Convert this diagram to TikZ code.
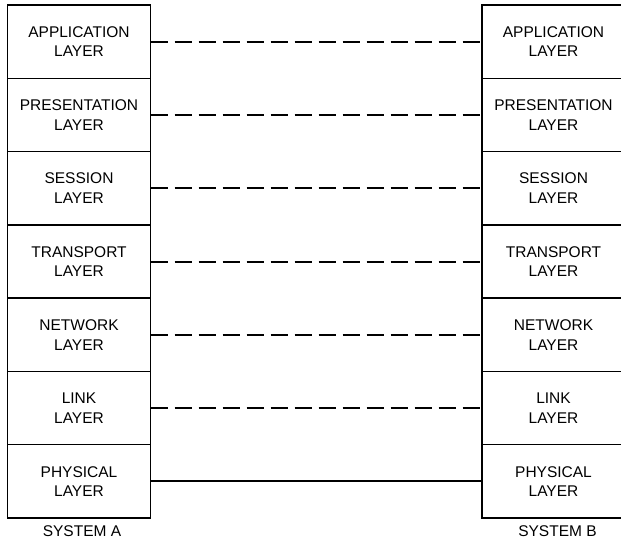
\documentclass[tikz,border=0pt]{standalone}
\usepackage{fontspec}
\setmainfont{Liberation Sans}
\usetikzlibrary{positioning}

\tikzstyle{layer} = [rectangle, draw, line width=1.4pt, minimum width=143pt,
minimum height=73.3pt, align=center, inner sep=0pt, outer sep=0pt,
font=\fontsize{15.5}{19.5}\selectfont]
\tikzstyle{peer} = [draw, line width=2pt, dash pattern=on 17.5pt off 6.5pt]
\tikzstyle{wire} = [draw, line width=2pt]
\tikzstyle{sysname} = [inner sep=0pt, font=\fontsize{15.5}{19.5}\selectfont]

\begin{document}
\begin{tikzpicture}[x=1pt,y=1pt]
\useasboundingbox (0,0) rectangle (621,541);

% Layers of System A
\node[layer](appA) at (79,499.35) {APPLICATION\\LAYER};
\node[layer,below=0pt of appA](presA) {PRESENTATION\\LAYER};
\node[layer,below=0pt of presA](sessA) {SESSION\\LAYER};
\node[layer,below=0pt of sessA](transA) {TRANSPORT\\LAYER};
\node[layer,below=0pt of transA](netA) {NETWORK\\LAYER};
\node[layer,below=0pt of netA](linkA) {LINK\\LAYER};
\node[layer,below=0pt of linkA](physA) {PHYSICAL\\LAYER};

% Layers of System B
\node[layer](appB) at (553.5,499.35) {APPLICATION\\LAYER};
\node[layer,below=0pt of appB](presB) {PRESENTATION\\LAYER};
\node[layer,below=0pt of presB](sessB) {SESSION\\LAYER};
\node[layer,below=0pt of sessB](transB) {TRANSPORT\\LAYER};
\node[layer,below=0pt of transB](netB) {NETWORK\\LAYER};
\node[layer,below=0pt of netB](linkB) {LINK\\LAYER};
\node[layer,below=0pt of linkB](physB) {PHYSICAL\\LAYER};

% Peer to peer connections
\path[peer] (appA) -- (appB);
\path[peer] (presA) -- (presB);
\path[peer] (sessA) -- (sessB);
\path[peer] (transA) -- (transB);
\path[peer] (netA) -- (netB);
\path[peer] (linkA) -- (linkB);
\path[wire] (physA) -- (physB);

% System names
\node[sysname,below=7pt of physA,xshift=3pt](sysA) {SYSTEM A};
\node[sysname,below=7pt of physB,xshift=4pt](sysB) {SYSTEM B};
\end{tikzpicture}
\end{document}
